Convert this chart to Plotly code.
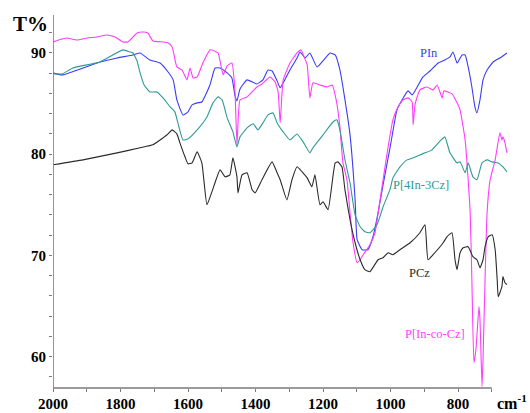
import plotly.graph_objects as go

# ---- data (wavenumber cm-1, transmittance %) ----
pin_x = [2000, 1973, 1861, 1810, 1763, 1742, 1713, 1683, 1659, 1644, 1633, 1615, 1600, 1588, 1573, 1559,
         1535, 1520, 1505, 1484, 1470, 1461, 1455, 1446, 1425, 1396, 1378, 1363, 1351, 1336, 1327, 1318,
         1298, 1277, 1268, 1253, 1239, 1218, 1203, 1179, 1164, 1150, 1135, 1120, 1105, 1099, 1084, 1067,
         1052, 1037, 1022, 1001, 981, 966, 948, 936, 921, 904, 883, 859, 839, 824, 815, 803, 800, 788,
         779, 770, 759, 750, 744, 735, 726, 714, 696, 676, 655]
pin_y = [88.03, 87.83, 89.11, 89.51, 89.80, 90.00, 89.31, 89.01, 88.12, 87.34, 85.36, 83.88, 84.18, 84.87, 85.07, 85.16,
         86.84, 88.52, 88.52, 88.03, 87.53, 85.80, 85.26, 86.45, 87.34, 86.94, 87.34, 88.32, 88.22, 87.24, 86.55, 87.04,
         88.32, 89.51, 90.10, 89.51, 90.00, 88.62, 89.11, 90.00, 89.80, 88.32, 85.36, 81.91, 75.49, 71.55, 70.56, 70.56,
         71.84, 74.21, 77.00, 80.72, 84.38, 85.36, 86.25, 85.85, 86.64, 87.63, 88.22, 89.01, 89.31, 89.61, 90.10, 89.01, 89.11, 89.80,
         89.80, 88.62, 86.64, 84.67, 84.08, 85.36, 87.34, 88.32, 89.11, 89.51, 90.00]

pico_x = [2000, 1973, 1959, 1929, 1899, 1870, 1840, 1816, 1793, 1778, 1751, 1733, 1719, 1704, 1674, 1659,
          1647, 1633, 1618, 1603, 1594, 1585, 1573, 1556, 1535, 1529, 1511, 1496, 1484, 1470, 1461, 1455,
          1446, 1425, 1396, 1381, 1357, 1342, 1333, 1327, 1318, 1298, 1277, 1265, 1256, 1247, 1239, 1230,
          1209, 1188, 1173, 1161, 1150, 1141, 1129, 1120, 1111, 1099, 1090, 1081, 1061, 1046, 1031, 1010,
          993, 978, 963, 948, 936, 933, 927, 913, 892, 874, 862, 847, 842, 818, 803, 794, 785, 779, 770,
          764, 759, 753, 747, 738, 735, 729, 726, 720, 714, 705, 690, 676, 670, 667, 661, 655]
pico_y = [91.09, 91.38, 91.48, 91.28, 91.48, 91.58, 91.78, 91.58, 91.09, 91.09, 91.97, 92.07, 91.97, 91.18, 91.09, 90.99,
          90.59, 88.62, 88.32, 87.34, 88.52, 87.53, 87.63, 89.01, 90.30, 90.30, 90.00, 87.83, 88.72, 89.01, 86.35, 80.92,
          85.36, 85.66, 86.64, 86.94, 87.63, 87.14, 86.15, 83.09, 87.34, 89.01, 90.00, 90.30, 89.61, 88.82, 85.56, 87.04,
          86.84, 86.64, 86.84, 85.36, 82.70, 79.14, 77.47, 74.21, 71.25, 69.28, 69.57, 70.07, 71.06, 72.24, 75.49, 80.13,
          83.39, 84.67, 85.36, 85.56, 85.16, 82.89, 84.97, 86.35, 86.64, 86.35, 86.84, 85.56, 86.25, 85.95, 85.07, 84.38, 82.70, 81.41, 77.47,
          74.21, 67.60, 59.41, 60.70, 64.94, 63.65, 57.04, 59.71, 67.60, 74.21, 77.47, 79.44, 82.11, 81.41, 81.71, 81.12, 80.13]

p43_x = [2000, 1973, 1941, 1861, 1793, 1772, 1763, 1751, 1742, 1730, 1713, 1692, 1674, 1653, 1639, 1630,
         1615, 1600, 1573, 1544, 1526, 1511, 1499, 1484, 1467, 1455, 1446, 1425, 1407, 1393, 1378, 1363,
         1348, 1336, 1318, 1298, 1277, 1259, 1239, 1230, 1200, 1170, 1159, 1150, 1135, 1120, 1105, 1090,
         1076, 1061, 1040, 1022, 1001, 993, 972, 951, 933, 913, 898, 877, 853, 839, 824, 803, 794, 779,
         770, 756, 744, 729, 714, 699, 681, 667, 655]
p43_y = [87.93, 87.93, 88.52, 89.11, 90.30, 90.10, 90.00, 89.21, 88.03, 86.84, 86.15, 86.15, 85.56, 84.67, 84.18, 83.09,
         81.41, 81.51, 82.40, 83.68, 85.07, 85.66, 85.36, 83.59, 82.20, 80.72, 81.71, 82.60, 83.00, 82.40, 83.09, 83.88,
         84.08, 83.09, 82.20, 81.41, 82.00, 81.22, 80.13, 80.63, 81.91, 83.20, 83.39, 82.40, 79.44, 77.17, 74.00, 72.83,
         72.34, 72.24, 73.03, 74.80, 76.58, 77.66, 78.75, 79.44, 79.64, 79.93, 80.13, 80.43, 81.32, 81.71, 80.13, 79.14, 79.24, 78.16,
         79.14, 77.76, 77.47, 79.14, 79.44, 79.24, 79.14, 78.75, 78.26]

pcz_x = [2000, 1911, 1810, 1742, 1704, 1674, 1659, 1647, 1633, 1624, 1609, 1600, 1588, 1573, 1559, 1544,
         1529, 1505, 1490, 1476, 1467, 1455, 1452, 1440, 1425, 1410, 1401, 1381, 1351, 1336, 1327, 1307,
         1292, 1277, 1262, 1247, 1233, 1224, 1209, 1200, 1185, 1164, 1156, 1144, 1135, 1120, 1105, 1090,
         1076, 1061, 1037, 1022, 1007, 993, 972, 942, 913, 898, 889, 874, 844, 833, 818, 809, 803, 794,
         785, 770, 756, 744, 735, 726, 720, 711, 699, 690, 684, 681, 670, 667, 661, 655]
pcz_y = [78.95, 79.44, 80.13, 80.63, 80.92, 81.61, 82.00, 82.40, 82.00, 81.12, 79.74, 79.05, 79.14, 80.23, 79.14, 75.00,
         76.30, 78.45, 77.76, 77.96, 79.64, 77.76, 76.18, 77.96, 78.16, 76.48, 76.18, 77.47, 79.24, 78.16, 77.47, 75.49,
         77.47, 78.75, 78.26, 77.66, 76.78, 77.96, 75.00, 75.30, 74.51, 79.14, 79.24, 78.75, 76.48, 73.52, 71.25, 69.57,
         68.59, 68.39, 69.57, 69.77, 70.26, 70.07, 70.56, 71.25, 72.24, 73.03, 69.57, 70.07, 71.25, 71.84, 72.24, 69.57, 68.59, 70.26,
         70.76, 70.86, 69.87, 69.57, 68.78, 69.57, 70.86, 71.84, 72.04, 70.56, 67.60, 65.92, 66.91, 67.90, 67.30, 67.11]

series_names = ["PIn", "P[In-co-Cz]", "P[4In-3Cz]", "PCz"]
series_colors = ["#3b3bf5", "#ff3cff", "#2f9a96", "#2a2a2a"]
label_x = [886, 868, 910, 913]
label_y = [90.0, 62.2, 77.0, 68.3]

x_ticks = [2000, 1800, 1600, 1400, 1200, 1000, 800]
y_ticks = [60, 70, 80, 90]
x_range = [2000, 652]
y_range = [56.9, 93.75]

serif = "Liberation Serif, Times New Roman, serif"

fig = go.Figure()
for name, xs, ys, col in zip(series_names, [pin_x, pico_x, p43_x, pcz_x],
                             [pin_y, pico_y, p43_y, pcz_y], series_colors):
    fig.add_trace(go.Scatter(x=xs, y=ys, mode="lines", name=name,
                             line=dict(color=col, width=1.1, shape="spline", smoothing=0.4),
                             showlegend=False, hoverinfo="skip"))

for name, lx, ly, col in zip(series_names, label_x, label_y, series_colors):
    fig.add_annotation(x=lx, y=ly, text=name, showarrow=False,
                       font=dict(family=serif, size=12.5, color=col))

# axis lines (x axis line stops at 700 like the reference)
fig.add_shape(type="line", xref="x", yref="paper", x0=2000, x1=700, y0=0, y1=0,
              line=dict(color="#7a7a7a", width=1.6))
fig.add_shape(type="line", xref="x", yref="paper", x0=2000, x1=2000, y0=0, y1=1,
              line=dict(color="#7a7a7a", width=1.6))

fig.add_annotation(xref="paper", yref="paper", x=-0.05, y=0.975, xanchor="center", yanchor="middle",
                   text="T%", showarrow=False,
                   font=dict(family=serif, size=21, color="black", weight="bold"))
fig.add_annotation(xref="paper", yref="paper", x=0.972, y=-0.005, xanchor="left", yanchor="top",
                   text="cm<sup>-1</sup>", showarrow=False,
                   font=dict(family=serif, size=16, color="black", weight="bold"))

fig.update_xaxes(range=x_range, tickvals=x_ticks, ticktext=[str(v) for v in x_ticks],
                 ticks="outside", ticklen=2, tickcolor="#7a7a7a", showgrid=False, zeroline=False,
                 showline=False, automargin=False,
                 minor=dict(dtick=100, tick0=0, ticks="outside", ticklen=3, tickcolor="#7a7a7a", showgrid=False),
                 tickfont=dict(family=serif, size=15, color="black", weight="bold"))
fig.update_yaxes(range=y_range, tickvals=y_ticks, ticktext=[str(v) for v in y_ticks],
                 ticks="outside", ticklen=3, tickcolor="#7a7a7a", showgrid=False, zeroline=False,
                 showline=False, automargin=False,
                 minor=dict(dtick=2, tick0=0, ticks="outside", ticklen=3, tickcolor="#7a7a7a", showgrid=False),
                 tickfont=dict(family=serif, size=15, color="black", weight="bold"))

fig.update_layout(width=530, height=413, margin=dict(l=53, r=22, t=15, b=25),
                  paper_bgcolor="white", plot_bgcolor="white")

fig.write_html("out.html")
